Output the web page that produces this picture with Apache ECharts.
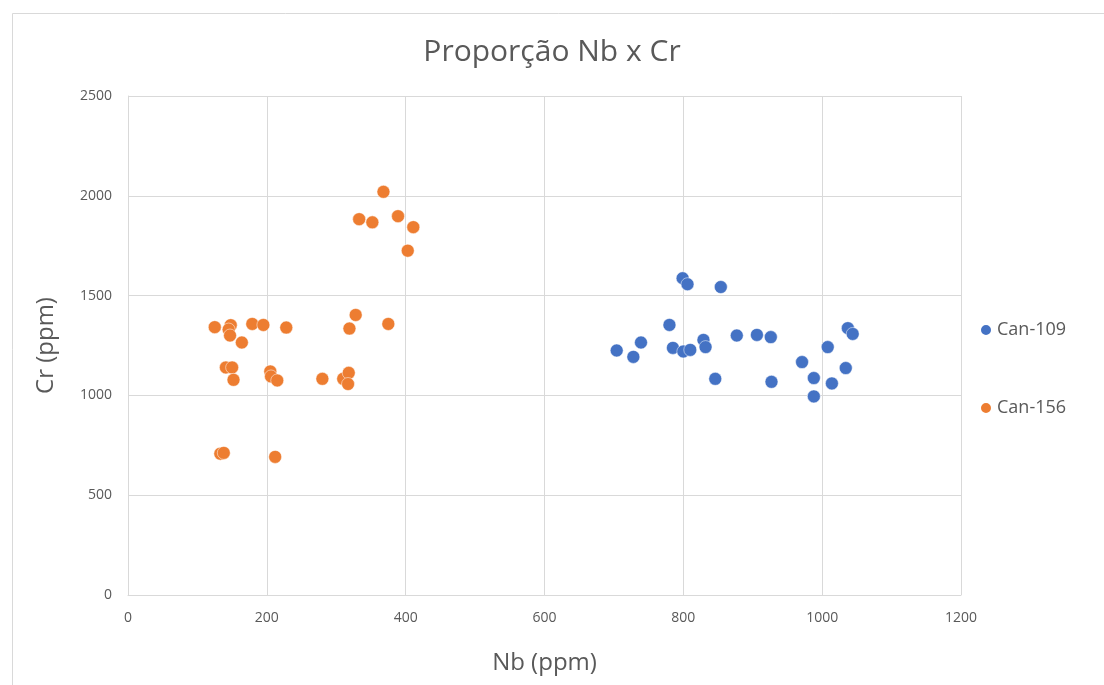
<!DOCTYPE html>
<html><head><meta charset="utf-8">
<script src="https://cdn.jsdelivr.net/npm/echarts@6/dist/echarts.min.js"></script>
<style>html,body{margin:0;padding:0;background:#fff}#c{width:1104px;height:685px}</style>
</head><body><div id="c"></div>
<script>
const title = "Proporção Nb x Cr";
const xName = "Nb (ppm)";
const yName = "Cr (ppm)";
const seriesNames = ["Can-109", "Can-156"];
const can109Nb = [799,806,854,780,739,704,728,785,800,810,829,832,846,877,906,926,927,971,988,988,1008,1014,1034,1037,1044];
const can109Cr = [1587,1557,1543,1353,1265,1225,1193,1238,1220,1228,1278,1242,1083,1300,1303,1292,1068,1167,1087,995,1242,1060,1137,1337,1308];
const can156Nb = [368,333,352,389,411,403,125,148,145,147,164,179,195,228,328,319,375,141,150,152,205,206,215,280,310,318,317,133,138,212];
const can156Cr = [2020,1883,1867,1898,1843,1725,1342,1352,1330,1300,1265,1358,1353,1340,1403,1335,1358,1140,1140,1078,1120,1095,1075,1083,1083,1113,1057,708,712,692];

const pairs = (xs, ys) => xs.map((x, i) => [x, ys[i]]);
const chart = echarts.init(document.getElementById('c'), null, {renderer: 'canvas'});
const font = "'Open Sans', 'Liberation Sans', sans-serif";
const plain = v => String(v);
chart.setOption({
  backgroundColor: '#fff',
  animation: false,
  textStyle: {fontFamily: font},
  graphic: [{type: 'rect', shape: {x: 12.5, y: 13.5, width: 1200, height: 800}, style: {fill: 'none', stroke: '#d9d9d9', lineWidth: 1}, silent: true}],
  title: {text: title, left: 'center', top: 32, textStyle: {fontFamily: font, fontSize: 30, fontWeight: 'normal', color: '#595959'}},
  legend: {orient: 'vertical', left: 974, top: 316, itemGap: 60, itemWidth: 12, itemHeight: 12,
    textStyle: {fontFamily: font, fontSize: 18, color: '#595959'},
    data: seriesNames.map(n => ({name: n, icon: 'circle'}))},
  grid: {left: 128, right: 143, top: 96, bottom: 90},
  xAxis: {type: 'value', min: 0, max: 1200, interval: 200, name: xName, nameLocation: 'middle', nameGap: 56,
    nameTextStyle: {fontFamily: font, fontSize: 24, color: '#595959'},
    axisLine: {show: true, lineStyle: {color: '#d9d9d9'}}, axisTick: {show: false},
    axisLabel: {fontFamily: font, fontSize: 14, color: '#595959', margin: 16, formatter: plain},
    splitLine: {show: true, lineStyle: {color: '#d9d9d9'}}},
  yAxis: {type: 'value', min: 0, max: 2500, interval: 500, name: yName, nameLocation: 'middle', nameGap: 70,
    nameTextStyle: {fontFamily: font, fontSize: 24, color: '#595959'},
    axisLine: {show: true, lineStyle: {color: '#d9d9d9'}}, axisTick: {show: false},
    axisLabel: {fontFamily: font, fontSize: 14, color: '#595959', margin: 16, formatter: plain},
    splitLine: {show: true, lineStyle: {color: '#d9d9d9'}}},
  series: [
    {name: seriesNames[0], type: 'scatter', symbol: 'circle', symbolSize: 13, itemStyle: {color: '#4472C4', opacity: 1, borderColor: '#fff', borderWidth: 0.5}, data: pairs(can109Nb, can109Cr)},
    {name: seriesNames[1], type: 'scatter', symbol: 'circle', symbolSize: 13, itemStyle: {color: '#ED7D31', opacity: 1, borderColor: '#fff', borderWidth: 0.5}, data: pairs(can156Nb, can156Cr)}
  ]
});
</script></body></html>
